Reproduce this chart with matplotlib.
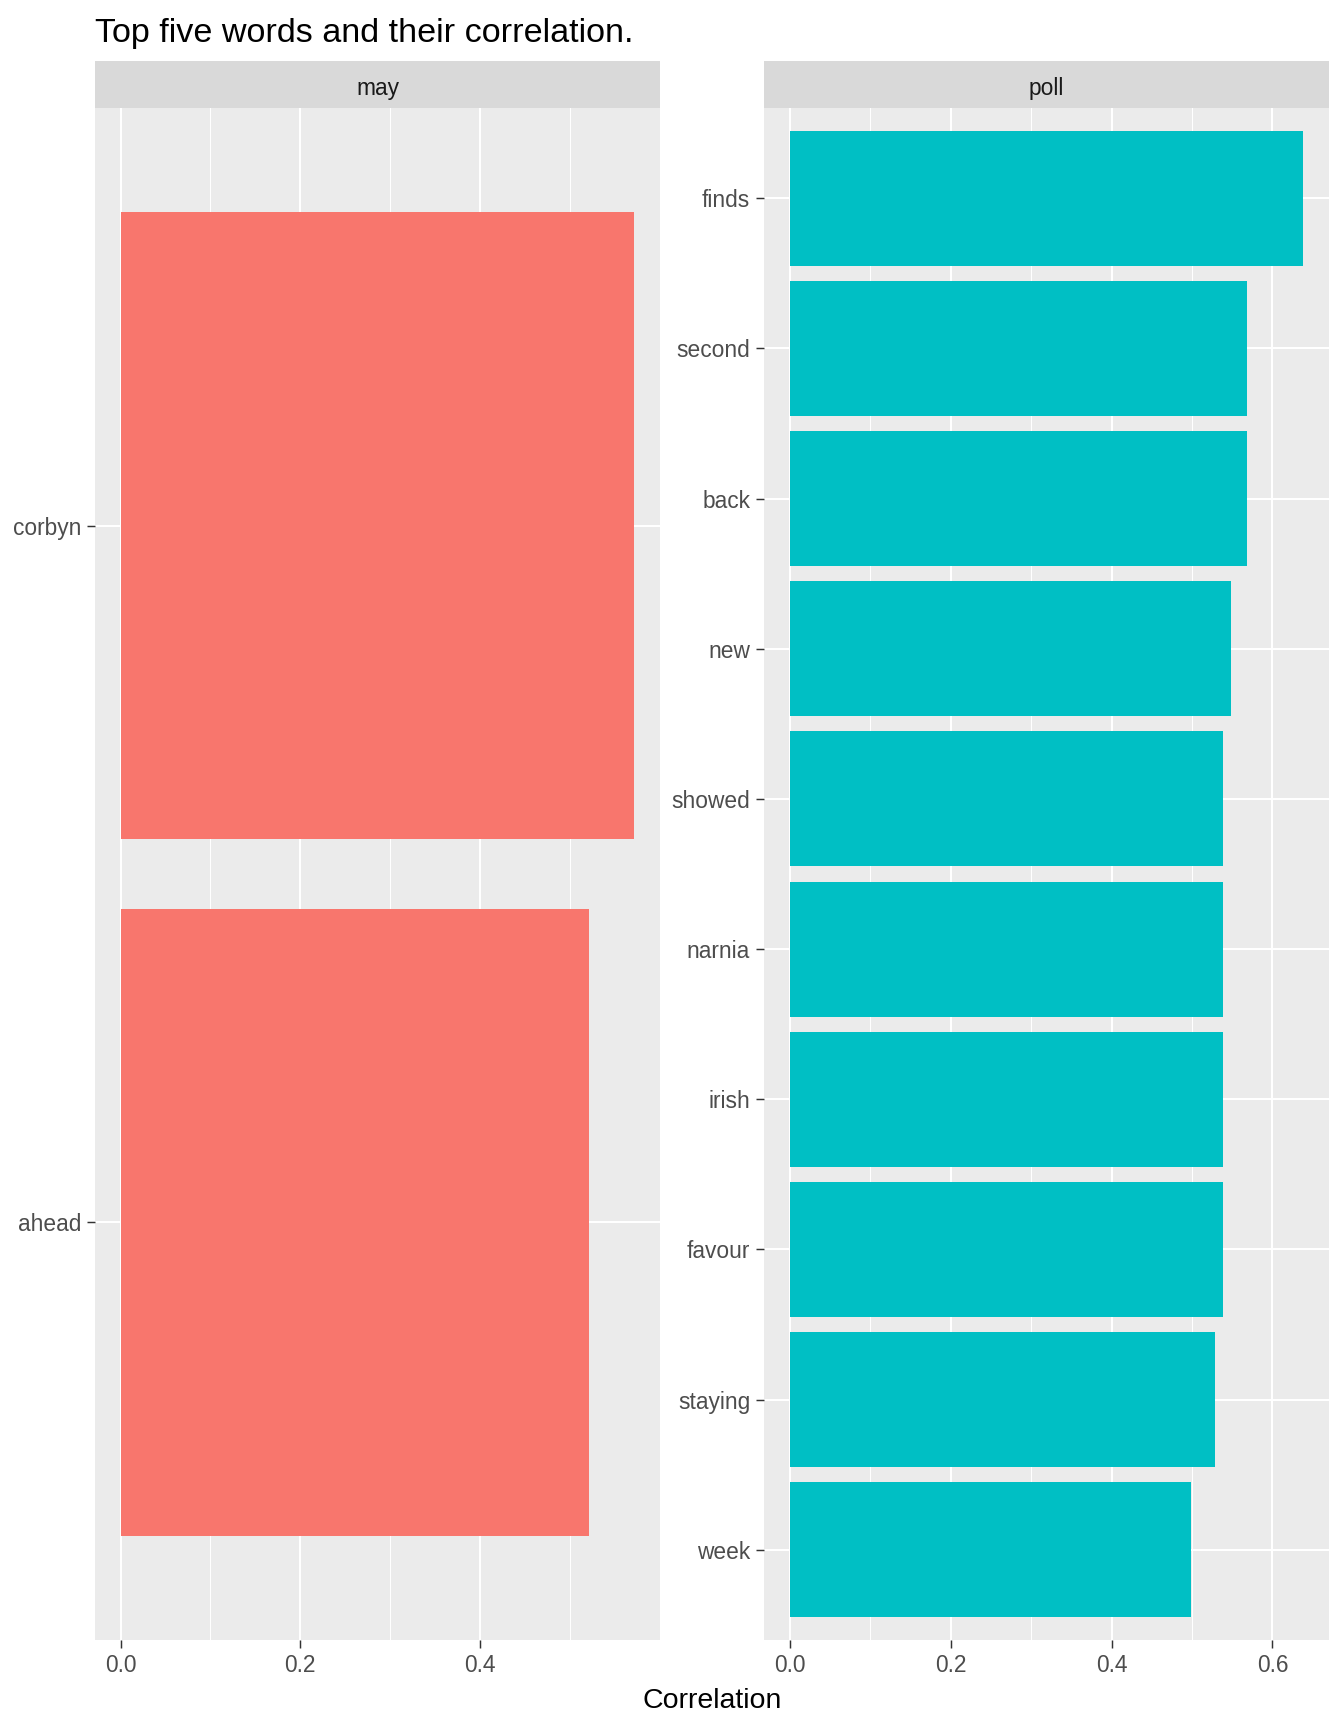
import matplotlib
matplotlib.use("Agg")
import matplotlib.pyplot as plt

plt.rcParams['font.family'] = ['Liberation Sans', 'DejaVu Sans']

# correlation of words with "may"
may_words = ["ahead", "corbyn"]
may_corr = [0.522, 0.572]

# correlation of words with "poll" (bottom to top)
poll_words = ["week", "staying", "favour", "irish", "narnia", "showed", "new", "back", "second", "finds"]
poll_corr = [0.499, 0.529, 0.538, 0.538, 0.538, 0.538, 0.548, 0.5685, 0.5685, 0.638]

facets = ["may", "poll"]
fill_colors = ["#F8766D", "#00BFC4"]

W, H = 1344, 1728
fig = plt.figure(figsize=(W / 100, H / 100), dpi=100)


def fx(px):
    return px / W


def fy(px):
    return 1 - px / H


panel_top, panel_bot = 108, 1640
strip_top = 61
lefts = [(95, 660), (764, 1328.7)]
data = [(may_words, may_corr), (poll_words, poll_corr)]

for (x0, x1), (words, vals), name, col in zip(lefts, data, facets, fill_colors):
    ax = fig.add_axes([fx(x0), fy(panel_bot), fx(x1 - x0), (panel_bot - panel_top) / H])
    ax.set_facecolor("#EBEBEB")
    for s in ax.spines.values():
        s.set_visible(False)

    n = len(words)
    pos = list(range(1, n + 1))
    ax.barh(pos, vals, height=0.9, color=col, zorder=3)

    vmax = max(vals)
    hi = 1.05 * vmax
    ax.set_xlim(-0.05 * vmax, hi)
    ax.set_ylim(0.4, n + 0.6)

    majors = [t for t in [0.0, 0.2, 0.4, 0.6] if t < hi - 0.005]
    minors = [t for t in [0.1, 0.3, 0.5, 0.7] if t < hi - 0.005]
    ax.set_xticks(majors)
    ax.set_xticklabels([f"{t:.1f}" for t in majors])
    ax.set_xticks(minors, minor=True)
    ax.set_yticks(pos)
    ax.set_yticklabels(words)

    ax.grid(True, which="major", color="white", linewidth=1.45, zorder=0)
    ax.grid(True, which="minor", axis="x", color="white", linewidth=0.75, zorder=0)
    ax.set_axisbelow(True)

    ax.tick_params(axis="both", which="major", length=5.5, width=1.05, color="#333333",
                   labelsize=16.4, labelcolor="#4D4D4D", pad=4.5)
    ax.tick_params(axis="x", which="minor", length=0)

    # facet strip
    sax = fig.add_axes([fx(x0), fy(panel_top), fx(x1 - x0), (panel_top - strip_top) / H])
    sax.set_facecolor("#D9D9D9")
    sax.set_xticks([])
    sax.set_yticks([])
    for s in sax.spines.values():
        s.set_visible(False)
    sax.text(0.5, 0.42, name, ha="center", va="center", fontsize=16.4, color="#1A1A1A",
             transform=sax.transAxes)

fig.text(fx(95), fy(42), "Top five words and their correlation.", fontsize=24.6,
         color="black", ha="left", va="baseline")
fig.text(fx((95 + 1328.7) / 2), fy(1708), "Correlation", fontsize=20.5,
         color="black", ha="center", va="baseline")

fig.savefig("out.png", dpi=100)
